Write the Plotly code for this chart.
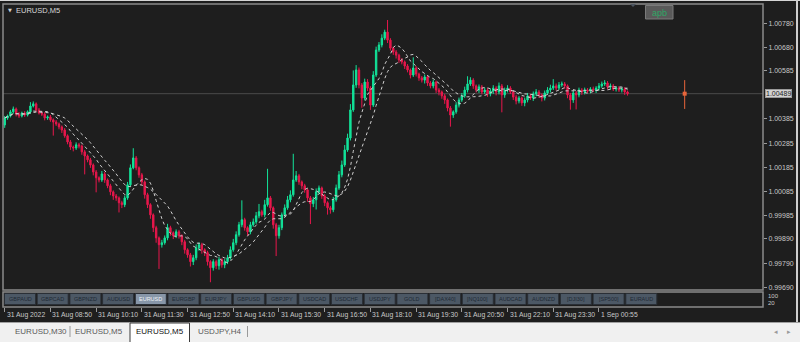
import plotly.graph_objects as go
import pandas as pd

# ---------------- data ----------------
chart_title = "EURUSD,M5"
first_open = 1.00360
close = [
    1.00389, 1.00397, 1.00414, 1.00426, 1.00405, 1.00397, 1.00409, 1.00401, 1.00414, 1.00438,
    1.00447, 1.00422, 1.00409, 1.00405, 1.00389, 1.00393, 1.00381, 1.00372, 1.00364, 1.00352,
    1.00339, 1.00315, 1.00290, 1.00269, 1.00265, 1.00278, 1.00273, 1.00249, 1.00232, 1.00216,
    1.00195, 1.00166, 1.00142, 1.00133, 1.00158, 1.00133, 1.00109, 1.00084, 1.00067, 1.00059,
    1.00039, 1.00031, 1.00059, 1.00113, 1.00183, 1.00224, 1.00183, 1.00154, 1.00125, 1.00072,
    1.00031, 0.99989, 0.99936, 0.99894, 0.99866, 0.99874, 0.99894, 0.99936, 0.99915, 0.99903,
    0.99919, 0.99903, 0.99878, 0.99845, 0.99824, 0.99796, 0.99812, 0.99853, 0.99866, 0.99845,
    0.99833, 0.99796, 0.99771, 0.99796, 0.99779, 0.99804, 0.99783, 0.99796, 0.99812, 0.99845,
    0.99874, 0.99907, 0.99948, 0.99969, 0.99936, 0.99919, 0.99948, 0.99960, 0.99985, 1.00002,
    0.99989, 1.00031, 1.00059, 1.00018, 0.99948, 0.99903, 0.99936, 0.99989, 1.00018, 1.00051,
    1.00072, 1.00133, 1.00150, 1.00125, 1.00109, 1.00092, 1.00059, 1.00035, 1.00051, 1.00084,
    1.00100, 1.00067, 1.00039, 1.00018, 1.00010, 1.00051, 1.00100, 1.00154, 1.00195, 1.00257,
    1.00306, 1.00422, 1.00525, 1.00587, 1.00525, 1.00471, 1.00537, 1.00512, 1.00442, 1.00566,
    1.00669, 1.00690, 1.00718, 1.00743, 1.00710, 1.00677, 1.00661, 1.00648, 1.00628, 1.00620,
    1.00603, 1.00587, 1.00566, 1.00595, 1.00570, 1.00554, 1.00545, 1.00558, 1.00533, 1.00521,
    1.00537, 1.00504, 1.00496, 1.00480, 1.00463, 1.00430, 1.00401, 1.00414, 1.00442, 1.00463,
    1.00480, 1.00504, 1.00529, 1.00545, 1.00521, 1.00504, 1.00517, 1.00496, 1.00504, 1.00488,
    1.00500, 1.00512, 1.00496, 1.00521, 1.00484, 1.00504, 1.00512, 1.00496, 1.00475, 1.00459,
    1.00471, 1.00451, 1.00463, 1.00480, 1.00471, 1.00488, 1.00496, 1.00484, 1.00471, 1.00492,
    1.00504, 1.00512, 1.00521, 1.00512, 1.00525, 1.00529, 1.00521, 1.00484, 1.00463, 1.00492,
    1.00484, 1.00504, 1.00496, 1.00504, 1.00500, 1.00508, 1.00504, 1.00512, 1.00521, 1.00529,
    1.00533, 1.00517, 1.00521, 1.00508, 1.00512, 1.00504, 1.00508, 1.00496, 1.00489,
]
# wick lengths above / below the body, in points (0.00001)
upper_wick_pts = [
    8, 6, 8, 10, 6, 8, 6, 8, 6, 16,
    10, 6, 8, 6, 8, 6, 8, 6, 8, 6,
    6, 8, 6, 8, 6, 10, 8, 6, 8, 6,
    8, 6, 8, 6, 12, 8, 6, 8, 6, 8,
    6, 8, 10, 12, 14, 40, 8, 6, 8, 6,
    8, 6, 6, 8, 6, 12, 10, 16, 8, 6,
    10, 8, 6, 8, 6, 8, 12, 14, 10, 8,
    6, 8, 6, 10, 8, 12, 6, 10, 12, 14,
    16, 14, 12, 80, 8, 6, 12, 14, 16, 32,
    8, 20, 120, 8, 6, 8, 12, 10, 14, 16,
    18, 108, 20, 8, 6, 8, 6, 8, 12, 14,
    10, 6, 8, 6, 8, 12, 14, 16, 18, 20,
    18, 24, 60, 20, 10, 8, 14, 12, 8, 16,
    14, 12, 16, 10, 50, 8, 6, 8, 6, 8,
    6, 8, 6, 44, 8, 6, 8, 10, 6, 8,
    10, 6, 8, 6, 8, 6, 8, 6, 12, 10,
    12, 14, 32, 12, 8, 6, 10, 8, 10, 8,
    10, 12, 8, 14, 8, 10, 12, 8, 6, 8,
    8, 6, 10, 12, 8, 10, 12, 8, 6, 10,
    12, 14, 28, 10, 12, 10, 8, 6, 8, 10,
    8, 10, 8, 10, 8, 8, 10, 8, 12, 10,
    12, 8, 10, 8, 6, 8, 6, 8, 6,
]
lower_wick_pts = [
    12, 8, 6, 8, 10, 8, 6, 8, 6, 8,
    6, 8, 6, 8, 10, 8, 8, 56, 8, 10,
    12, 8, 10, 12, 14, 8, 10, 12, 76, 10,
    12, 14, 60, 10, 8, 12, 10, 14, 16, 12,
    40, 14, 10, 8, 8, 6, 10, 12, 14, 16,
    14, 16, 18, 20, 100, 12, 8, 10, 12, 14,
    10, 12, 14, 16, 12, 20, 14, 10, 12, 16,
    14, 16, 60, 12, 14, 16, 12, 14, 10, 8,
    8, 10, 8, 10, 12, 16, 10, 8, 8, 10,
    8, 10, 8, 12, 16, 84, 12, 10, 8, 8,
    10, 8, 8, 12, 14, 12, 16, 84, 14, 40,
    10, 12, 14, 28, 16, 10, 8, 8, 10, 8,
    8, 10, 8, 12, 14, 40, 10, 12, 20, 8,
    8, 8, 10, 8, 12, 10, 12, 14, 12, 10,
    12, 10, 14, 8, 10, 12, 10, 14, 12, 10,
    10, 12, 14, 12, 16, 14, 48, 12, 8, 10,
    8, 8, 10, 8, 12, 10, 12, 10, 8, 12,
    10, 12, 14, 10, 72, 12, 10, 8, 12, 14,
    10, 12, 14, 10, 8, 12, 10, 12, 14, 10,
    8, 10, 8, 10, 8, 8, 12, 14, 40, 12,
    60, 10, 12, 10, 8, 10, 8, 12, 10, 8,
    8, 10, 12, 8, 10, 8, 10, 12, 8,
]
ma_periods = [8, 14]

time_labels = ["31 Aug 2022", "31 Aug 08:50", "31 Aug 10:10", "31 Aug 11:30", "31 Aug 12:50",
               "31 Aug 14:10", "31 Aug 15:30", "31 Aug 16:50", "31 Aug 18:10", "31 Aug 19:30",
               "31 Aug 20:50", "31 Aug 22:10", "31 Aug 23:30", "1 Sep 00:55"]
time_label_bars = [0, 16, 32, 48, 64, 80, 96, 112, 128, 144, 160, 176, 192, 208]

price_ticks = [1.00780, 1.00680, 1.00585, 1.00385, 1.00285, 1.00185, 1.00085,
               0.99985, 0.99890, 0.99790, 0.99690]
bid_price = 1.00489

marker_bar = 238
marker_high = 1.00545
marker_low = 1.00426
marker_value = 1.00489

buttons = ["GBPAUD", "GBPCAD", "GBPNZD", "AUDUSD", "EURUSD", "EURGBP", "EURJPY", "GBPUSD",
           "GBPJPY", "USDCAD", "USDCHF", "USDJPY", "GOLD", "[DAX40]", "[NQ100]", "AUDCAD",
           "AUDNZD", "[DJI30]", "[SP500]", "EURAUD"]
active_button = "EURUSD"
tabs = ["EURUSD,M30", "EURUSD,M5", "EURUSD,M5", "USDJPY,H4"]
active_tab = 2
sub_levels = ["100", "20"]
apb_label = "apb"

# ---------------- derived ----------------
n = len(close)
bars = list(range(n))
opens = [first_open] + close[:-1]
highs = [max(o, c) + u * 1e-5 for o, c, u in zip(opens, close, upper_wick_pts)]
lows = [min(o, c) - l * 1e-5 for o, c, l in zip(opens, close, lower_wick_pts)]
cs = pd.Series(close)
mas = [cs.rolling(p, min_periods=1).mean().tolist() for p in ma_periods]

W, H = 800, 342
def px(x):
    return x / W
def py(y):
    return 1 - y / H

FONT = "Liberation Sans, Arial, sans-serif"
BG = "#1e1e1e"
FRAME = "#8a8a8a"
TXT = "#c8c8c8"
BULL = "#12e49a"
BEAR = "#e8174c"

fig = go.Figure()
fig.add_trace(go.Candlestick(
    x=bars, open=opens, high=highs, low=lows, close=close,
    increasing=dict(line=dict(color=BULL, width=1), fillcolor=BULL),
    decreasing=dict(line=dict(color=BEAR, width=1), fillcolor=BEAR),
    whiskerwidth=0, hoverinfo="skip", showlegend=False,
))
for m in mas:
    fig.add_trace(go.Scatter(x=bars, y=m, mode="lines",
                             line=dict(color="#d0d0d0", width=1, dash="dot"),
                             hoverinfo="skip", showlegend=False))
fig.add_trace(go.Scatter(x=[marker_bar, marker_bar], y=[marker_low, marker_high], mode="lines",
                         line=dict(color="#e8653a", width=1), showlegend=False, hoverinfo="skip"))
fig.add_trace(go.Scatter(x=[marker_bar], y=[marker_value], mode="markers",
                         marker=dict(color="#e8653a", size=4, symbol="square"),
                         showlegend=False, hoverinfo="skip"))

x_left, x_right = 3, 763
main_top, main_bot = 4, 290
bar_px = 2.857

shapes = []
annotations = []
# main chart frame
shapes.append(dict(type="rect", xref="paper", yref="paper", x0=px(x_left), x1=px(x_right),
                   y0=py(main_bot), y1=py(main_top), line=dict(color=FRAME, width=1.5)))
# sub window frame
shapes.append(dict(type="rect", xref="paper", yref="paper", x0=px(x_left), x1=px(x_right),
                   y0=py(307), y1=py(292), line=dict(color=FRAME, width=1.5)))
# bid line
shapes.append(dict(type="line", xref="x domain", yref="y", x0=0, x1=1, y0=bid_price, y1=bid_price,
                   line=dict(color="#4a4a4a", width=1), layer="below"))
# window edges
shapes.append(dict(type="rect", xref="paper", yref="paper", x0=0, x1=1, y0=py(1), y1=1,
                   line=dict(width=0), fillcolor="#d6d6d6"))
shapes.append(dict(type="rect", xref="paper", yref="paper", x0=px(796), x1=px(798), y0=py(322), y1=1,
                   line=dict(width=0), fillcolor="#cfcfcf"))
# tab bar
shapes.append(dict(type="rect", xref="paper", yref="paper", x0=0, x1=1, y0=0, y1=py(322),
                   line=dict(width=0), fillcolor="#f0f0f0"))
shapes.append(dict(type="line", xref="paper", yref="paper", x0=0, x1=1, y0=py(322.5), y1=py(322.5),
                   line=dict(color="#a0a0a0", width=1)))

# chart title
annotations.append(dict(xref="paper", yref="paper", x=px(6), y=py(10.5), text="▼", showarrow=False,
                        xanchor="left", yanchor="middle", font=dict(family="DejaVu Sans", size=5, color="#d0d0d0")))
annotations.append(dict(xref="paper", yref="paper", x=px(14), y=py(10.5), text=chart_title, showarrow=False,
                        xanchor="left", yanchor="middle", font=dict(family=FONT, size=7.5, color="#d8d8d8")))
# shift marker
shapes.append(dict(type="path", xref="paper", yref="paper",
                   path=f"M {px(630)} {py(4)} L {px(636)} {py(4)} L {px(633)} {py(7)} Z",
                   fillcolor="#4c5560", line=dict(width=0)))
# apb button
shapes.append(dict(type="rect", xref="paper", yref="paper", x0=px(645.5), x1=px(673), y0=py(19), y1=py(5.5),
                   fillcolor="#5a5a5a", line=dict(color="#7a7a7a", width=1)))
annotations.append(dict(xref="paper", yref="paper", x=px(659), y=py(12.5), text=apb_label, showarrow=False,
                        xanchor="center", yanchor="middle", font=dict(family=FONT, size=9, color="#2fa765")))

# bid price box
annotations.append(dict(xref="paper", yref="y", x=px(765), y=bid_price, text=f"{bid_price:.5f}",
                        showarrow=False, xanchor="left", yanchor="middle", bgcolor="#d2d2d2",
                        bordercolor="#9a9a9a", borderwidth=1, borderpad=0,
                        font=dict(family=FONT, size=7, color="#222222")))

# time labels
for b, t in zip(time_label_bars, time_labels):
    annotations.append(dict(xref="x", yref="paper", x=b, y=py(314.5), text=t, showarrow=False,
                            xanchor="left", yanchor="middle", xshift=0,
                            font=dict(family=FONT, size=6.8, color=TXT)))

# buttons
for k, name in enumerate(buttons):
    x0 = 4.5 + k * 32.7
    act = name == active_button
    shapes.append(dict(type="rect", xref="paper", yref="paper", x0=px(x0), x1=px(x0 + 31),
                       y0=py(304.5), y1=py(293.5),
                       fillcolor="#8796a8" if act else "#4c5865",
                       line=dict(color="#2a2f36", width=1)))
    annotations.append(dict(xref="paper", yref="paper", x=px(x0 + 15.5), y=py(299), text=name,
                            showarrow=False, xanchor="center", yanchor="middle",
                            font=dict(family=FONT, size=5.5, color="#eef2f6" if act else "#1f2a35")))
# sub window levels
for j, lv in enumerate(sub_levels):
    annotations.append(dict(xref="paper", yref="paper", x=px(766), y=py(296 + j * 6.5), text=lv,
                            showarrow=False, xanchor="left", yanchor="middle",
                            font=dict(family=FONT, size=6, color=TXT)))

# tabs
tab_centers = [41, 99, 159.5, 220]
shapes.append(dict(type="rect", xref="paper", yref="paper", x0=px(130), x1=px(189.5), y0=py(343), y1=py(323),
                   fillcolor="#ffffff", line=dict(color="#3a3a3a", width=1)))
for k, (t, cx) in enumerate(zip(tabs, tab_centers)):
    annotations.append(dict(xref="paper", yref="paper", x=px(cx), y=py(331.5), text=t, showarrow=False,
                            xanchor="center", yanchor="middle",
                            font=dict(family=FONT, size=8, color="#111111" if k == active_tab else "#5a5a5a")))
for sx in [70, 247.5]:
    shapes.append(dict(type="line", xref="paper", yref="paper", x0=px(sx), x1=px(sx), y0=py(337), y1=py(326),
                       line=dict(color="#9a9a9a", width=1)))
for ax_, sym in [(776, "◂"), (789, "▸")]:
    annotations.append(dict(xref="paper", yref="paper", x=px(ax_), y=py(331.5), text=sym, showarrow=False,
                            xanchor="center", yanchor="middle",
                            font=dict(family="DejaVu Sans", size=7, color="#9a9a9a")))

y_lo = 0.99679
y_hi = 1.00859
x_lo = -0.6
x_hi = x_lo + (x_right - x_left) / bar_px

fig.update_layout(
    width=W, height=H, margin=dict(l=0, r=0, t=0, b=0),
    paper_bgcolor=BG, plot_bgcolor=BG,
    showlegend=False, shapes=shapes, annotations=annotations,
    xaxis=dict(domain=[px(x_left), px(x_right)], range=[x_lo, x_hi], anchor="free", position=py(307),
               showgrid=False, zeroline=False, showline=False, rangeslider=dict(visible=False),
               tickvals=time_label_bars, ticks="outside", ticklen=4, tickcolor="#9a9a9a",
               showticklabels=False, fixedrange=True),
    yaxis=dict(domain=[py(main_bot), py(main_top)], range=[y_lo, y_hi], side="right",
               showgrid=False, zeroline=False, showline=False,
               tickvals=price_ticks, ticktext=[f"{v:.5f}" for v in price_ticks],
               ticks="outside", ticklen=3, tickcolor="#9a9a9a",
               tickfont=dict(family=FONT, size=7, color=TXT), fixedrange=True),
)

fig.write_html("out.html")
